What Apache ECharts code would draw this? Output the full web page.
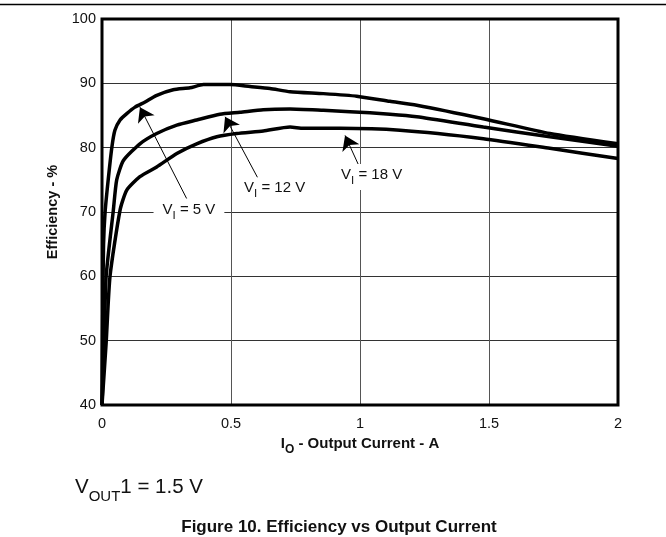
<!DOCTYPE html>
<html>
<head>
<meta charset="utf-8">
<script src="https://cdn.jsdelivr.net/npm/echarts@6/dist/echarts.min.js"></script>
<style>
  html, body { margin: 0; padding: 0; background: #fff; }
  #chart { width: 666px; height: 537px; }
</style>
</head>
<body>
<div id="chart"></div>
<script>
// Efficiency curves for three input voltages, VOUT1 = 1.5 V
const current5V  = [0, 0.003, 0.006, 0.012, 0.024, 0.038, 0.05, 0.07, 0.096, 0.128, 0.167, 0.21, 0.276, 0.341, 0.393, 0.496, 0.574, 0.651, 0.729, 0.858, 0.987, 1.116, 1.22, 1.478, 1.736, 2.0];
const eff5V      = [40, 55, 65, 70, 75, 80, 82.7, 84.3, 85.3, 86.3, 87.1, 88.1, 89.0, 89.3, 89.8, 89.8, 89.5, 89.2, 88.7, 88.4, 88.0, 87.2, 86.6, 84.5, 82.2, 80.6];

const current12V = [0, 0.008, 0.016, 0.044, 0.057, 0.083, 0.147, 0.212, 0.29, 0.367, 0.457, 0.535, 0.625, 0.729, 0.858, 0.961, 1.116, 1.22, 1.478, 1.736, 2.0];
const eff12V     = [40, 49.6, 60, 70.3, 75, 78, 80.6, 82.2, 83.5, 84.3, 85.2, 85.5, 85.9, 86.0, 85.8, 85.6, 85.2, 84.8, 83.2, 81.7, 80.2];

const current18V = [0, 0.016, 0.031, 0.07, 0.096, 0.147, 0.212, 0.29, 0.367, 0.445, 0.522, 0.625, 0.729, 0.78, 0.922, 1.155, 1.478, 1.736, 2.0];
const eff18V     = [40, 49.6, 60, 70.3, 73.4, 75.5, 77.0, 79.1, 80.6, 81.7, 82.2, 82.6, 83.2, 83.0, 83.0, 82.7, 81.4, 79.9, 78.3];

// Annotation labels: input voltage, label centre (A, %), arrow start (A, %), arrow tip (A, %)
const labelVoltages = ['5', '12', '18'];
const labelPos   = [[0.337, 70.0], [0.669, 73.4], [1.045, 75.45]];
const arrowStart = [[0.328, 72.1], [0.605, 75.2], [1.007, 76.2]];
const arrowTip   = [[0.147, 86.3], [0.477, 84.8], [0.942, 81.9]];

const FONT = '"Liberation Sans", Arial, Helvetica, sans-serif';
const INK = '#111';

function pairs(xs, ys) { return xs.map((x, i) => [x, ys[i]]); }

function curve(name, xs, ys) {
  return {
    name: name,
    type: 'line',
    data: pairs(xs, ys),
    showSymbol: false,
    smooth: 0.2,
    lineStyle: { color: '#000', width: 3.5 },
    emphasis: { disabled: true },
    z: 5
  };
}

const chart = echarts.init(document.getElementById('chart'), null, { renderer: 'canvas' });

chart.setOption({
  animation: false,
  backgroundColor: '#fff',
  grid: {
    left: 102, right: 48, top: 19, bottom: 132,
    show: true, borderColor: '#000', borderWidth: 3, backgroundColor: 'transparent', z: 10
  },
  xAxis: {
    type: 'value', min: 0, max: 2, interval: 0.5,
    axisLine: { show: false }, axisTick: { show: false },
    splitLine: { show: true, lineStyle: { color: '#555', width: 1 } },
    axisLabel: { fontFamily: FONT, fontSize: 14.5, color: INK, margin: 11 },
    name: '{b|I}{bs|O}{b| - Output Current - A}',
    nameLocation: 'middle', nameGap: 31,
    nameTextStyle: {
      rich: {
        b: { fontFamily: FONT, fontSize: 15, fontWeight: 'bold', color: INK, padding: [0, 0, 5, 0], verticalAlign: 'bottom' },
        bs: { fontFamily: FONT, fontSize: 12, fontWeight: 'bold', color: INK, verticalAlign: 'bottom' }
      }
    }
  },
  yAxis: {
    type: 'value', min: 40, max: 100, interval: 10,
    axisLine: { show: false }, axisTick: { show: false },
    splitLine: { show: true, lineStyle: { color: '#333', width: 1 } },
    axisLabel: { fontFamily: FONT, fontSize: 14.5, color: INK, margin: 6 },
    name: 'Efficiency - %',
    nameLocation: 'middle', nameGap: 39,
    nameTextStyle: { fontFamily: FONT, fontSize: 14.5, fontWeight: 'bold', color: INK }
  },
  title: [
    {
      text: '{n|V}{s|OUT}{n|1 = 1.5 V}',
      left: 70, top: 472,
      textStyle: {
        rich: {
          n: { fontFamily: FONT, fontSize: 20.5, fontWeight: 'normal', color: INK, padding: [0, 0, 6, 0], verticalAlign: 'bottom' },
          s: { fontFamily: FONT, fontSize: 15, fontWeight: 'normal', color: INK, verticalAlign: 'bottom' }
        }
      }
    },
    {
      text: 'Figure 10. Efficiency vs Output Current',
      left: 334, top: 514, textAlign: 'center',
      textStyle: { fontFamily: FONT, fontSize: 17, fontWeight: 'bold', color: INK }
    }
  ],
  graphic: [
    { type: 'line', shape: { x1: 0, y1: 4.5, x2: 666, y2: 4.5 }, style: { stroke: '#000', lineWidth: 1.3 } }
  ],
  series: [
    curve('VI = 5 V', current5V, eff5V),
    curve('VI = 12 V', current12V, eff12V),
    curve('VI = 18 V', current18V, eff18V),
    {
      name: 'arrows',
      type: 'lines',
      coordinateSystem: 'cartesian2d',
      symbol: ['none', 'arrow'],
      symbolSize: [10, 14],
      lineStyle: { color: '#000', width: 1, opacity: 1 },
      data: arrowStart.map((p, i) => ({ coords: [p, arrowTip[i]] })),
      z: 6
    },
    {
      name: 'labels',
      type: 'scatter',
      symbolSize: 0,
      itemStyle: { opacity: 1 },
      emphasis: { disabled: true },
      data: labelPos.map((p, i) => ({ value: p, v: labelVoltages[i] })),
      label: {
        show: true,
        position: 'inside',
        opacity: 1,
        backgroundColor: '#fff',
        padding: [3, 9, 3, 9],
        formatter: (p) => '{n|V}{s|I}{n| = ' + p.data.v + ' V}',
        rich: {
          n: { fontFamily: FONT, fontSize: 15, color: INK, opacity: 1, padding: [0, 0, 5, 0], verticalAlign: 'bottom' },
          s: { fontFamily: FONT, fontSize: 11.5, color: INK, opacity: 1, verticalAlign: 'bottom' }
        }
      },
      z: 7
    }
  ]
});
</script>
</body>
</html>
